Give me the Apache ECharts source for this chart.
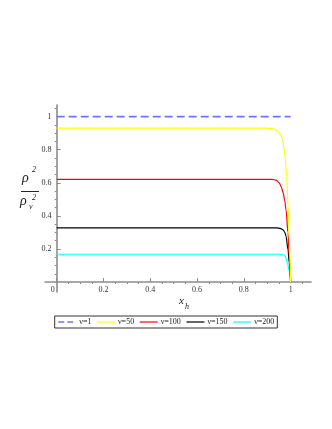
<!DOCTYPE html>
<html>
<head>
<meta charset="utf-8">
<style>
html,body{margin:0;padding:0;background:#fff;}
#c{width:332px;height:429px;}
</style>
<script src="https://cdn.jsdelivr.net/npm/echarts@6/dist/echarts.min.js"></script>
</head>
<body>
<div id="c"></div>
<script>
// ---- data ----
var seriesNames = ['ν=1', 'ν=50', 'ν=100', 'ν=150', 'ν=200'];
var x1 = [0, 1];
var y1 = [1, 1];
var x50 = [0, 0.90, 0.93, 0.945, 0.958, 0.966, 0.976, 0.983, 0.989, 0.994, 1];
var y50 = [0.93, 0.93, 0.925, 0.91, 0.89, 0.86, 0.76, 0.64, 0.46, 0.26, 0];
var x100 = [0, 0.92, 0.94, 0.951, 0.96, 0.968, 0.975, 0.98, 0.9886, 0.994, 1];
var y100 = [0.621, 0.621, 0.615, 0.60, 0.575, 0.54, 0.49, 0.44, 0.30, 0.16, 0];
var x150 = [0, 0.94, 0.955, 0.968, 0.975, 0.98, 0.9886, 0.994, 1];
var y150 = [0.327, 0.327, 0.325, 0.316, 0.30, 0.278, 0.198, 0.118, 0];
var x200 = [0, 0.96, 0.97, 0.977, 0.986, 0.994, 1];
var y200 = [0.168, 0.168, 0.165, 0.156, 0.118, 0.068, 0];
var xTicks = [0, 0.2, 0.4, 0.6, 0.8, 1];
var yTicks = [0.2, 0.4, 0.6, 0.8, 1];
var xMinorTicks = [0.05, 0.1, 0.15, 0.25, 0.3, 0.35, 0.45, 0.5, 0.55, 0.65, 0.7, 0.75, 0.85, 0.9, 0.95, 1.05];
var yMinorTicks = [0.05, 0.1, 0.15, 0.25, 0.3, 0.35, 0.45, 0.5, 0.55, 0.65, 0.7, 0.75, 0.85, 0.9, 0.95, 1.05];

function pairs(xs, ys) { return xs.map(function (x, i) { return [x, ys[i]]; }); }

var colors = ['#7373ff', '#ffff00', '#ff0000', '#000000', '#00ffff'];
var legendColors = ['#2a2aff', '#ffff00', '#ff0000', '#000000', '#00ffff'];
var allX = [x1, x50, x100, x150, x200];
var allY = [y1, y50, y100, y150, y200];

var chart = echarts.init(document.getElementById('c'), null, {renderer: 'canvas'});
var serif = 'Liberation Serif';
var axisColor = '#8c8c8c';

var series = seriesNames.map(function (n, i) {
  return {
    name: n,
    type: 'line',
    xAxisIndex: 0, yAxisIndex: 0,
    data: pairs(allX[i], allY[i]),
    symbol: 'none',
    smooth: i === 0 ? false : 0.35,
    smoothMonotone: 'x',
    lineStyle: {color: colors[i], width: i === 0 ? 1.6 : 1.2, type: i === 0 ? [8, 4] : 'solid'},
    itemStyle: {color: colors[i]},
    z: 10 - i
  };
});

var option = {
  backgroundColor: '#fff',
  animation: false,
  grid: {left: 45, top: 105, width: 266, height: 187, containLabel: false},
  legend: {
    data: seriesNames.map(function (n, i) {
      return {name: n, itemStyle: {color: legendColors[i], opacity: 0, borderWidth: 0},
              lineStyle: {color: legendColors[i], type: i === 0 ? [6, 3] : 'solid', width: 1.2}};
    }),
    left: 'center',
    top: 316,
    orient: 'horizontal',
    itemWidth: 18,
    itemHeight: 8,
    itemGap: 5,
    padding: [2, 3, 2, 3],
    borderColor: '#333',
    borderWidth: 1,
    textStyle: {fontFamily: serif, fontSize: 8, color: '#222', padding: [0, 0, 0, -2]}
  },
  xAxis: [{
    type: 'value', min: -0.05, max: 1.087,
    axisLine: {show: true, onZero: true, lineStyle: {color: axisColor, width: 1.6}},
    axisTick: {show: true, inside: true, length: 4, customValues: xTicks, lineStyle: {color: axisColor, width: 1}},
    axisLabel: {
      show: true, customValues: xTicks, fontFamily: serif, fontSize: 8, color: '#333', margin: -6.5,
      formatter: function (v) { return v === 0 ? '{z|0}' : String(v); },
      rich: {z: {fontFamily: serif, fontSize: 8, color: '#333', padding: [0, 8, 0, 0]}}
    },
    splitLine: {show: false}
  }, {
    type: 'value', min: -0.05, max: 1.087,
    axisLine: {show: false, onZero: true},
    axisTick: {show: true, inside: true, length: 2, customValues: xMinorTicks, lineStyle: {color: axisColor, width: 1}},
    axisLabel: {show: false},
    splitLine: {show: false}
  }],
  yAxis: [{
    type: 'value', min: -0.06, max: 1.07,
    axisLine: {show: true, onZero: true, lineStyle: {color: axisColor, width: 1.6}},
    axisTick: {show: true, inside: true, length: 4, customValues: yTicks, lineStyle: {color: axisColor, width: 1}},
    axisLabel: {show: true, customValues: yTicks, fontFamily: serif, fontSize: 8, color: '#333', margin: -6.5},
    splitLine: {show: false}
  }, {
    type: 'value', min: -0.06, max: 1.07,
    axisLine: {show: false, onZero: true},
    axisTick: {show: true, inside: true, length: 2, customValues: yMinorTicks, lineStyle: {color: axisColor, width: 1}},
    axisLabel: {show: false},
    splitLine: {show: false}
  }],
  series: series,
  graphic: [
    {type: 'text', left: 22, top: 171, style: {text: 'ρ', font: 'italic 14px "Liberation Serif"', fill: '#222'}},
    {type: 'text', left: 32, top: 166, style: {text: '2', font: 'italic 8px "Liberation Serif"', fill: '#222'}},
    {type: 'line', shape: {x1: 21, y1: 191.5, x2: 39, y2: 191.5}, style: {stroke: '#222', lineWidth: 1}},
    {type: 'text', left: 20, top: 194, style: {text: 'ρ', font: 'italic 14px "Liberation Serif"', fill: '#222'}},
    {type: 'text', left: 32, top: 194, style: {text: '2', font: 'italic 8px "Liberation Serif"', fill: '#222'}},
    {type: 'text', left: 29, top: 203, style: {text: 'ν', font: 'italic 8px "Liberation Serif"', fill: '#222'}},
    {type: 'text', left: 179, top: 296, style: {text: 'x', font: 'italic 11px "Liberation Serif"', fill: '#222'}},
    {type: 'text', left: 185, top: 303, style: {text: 'h', font: 'italic 8px "Liberation Serif"', fill: '#222'}}
  ]
};
chart.setOption(option);
</script>
</body>
</html>
